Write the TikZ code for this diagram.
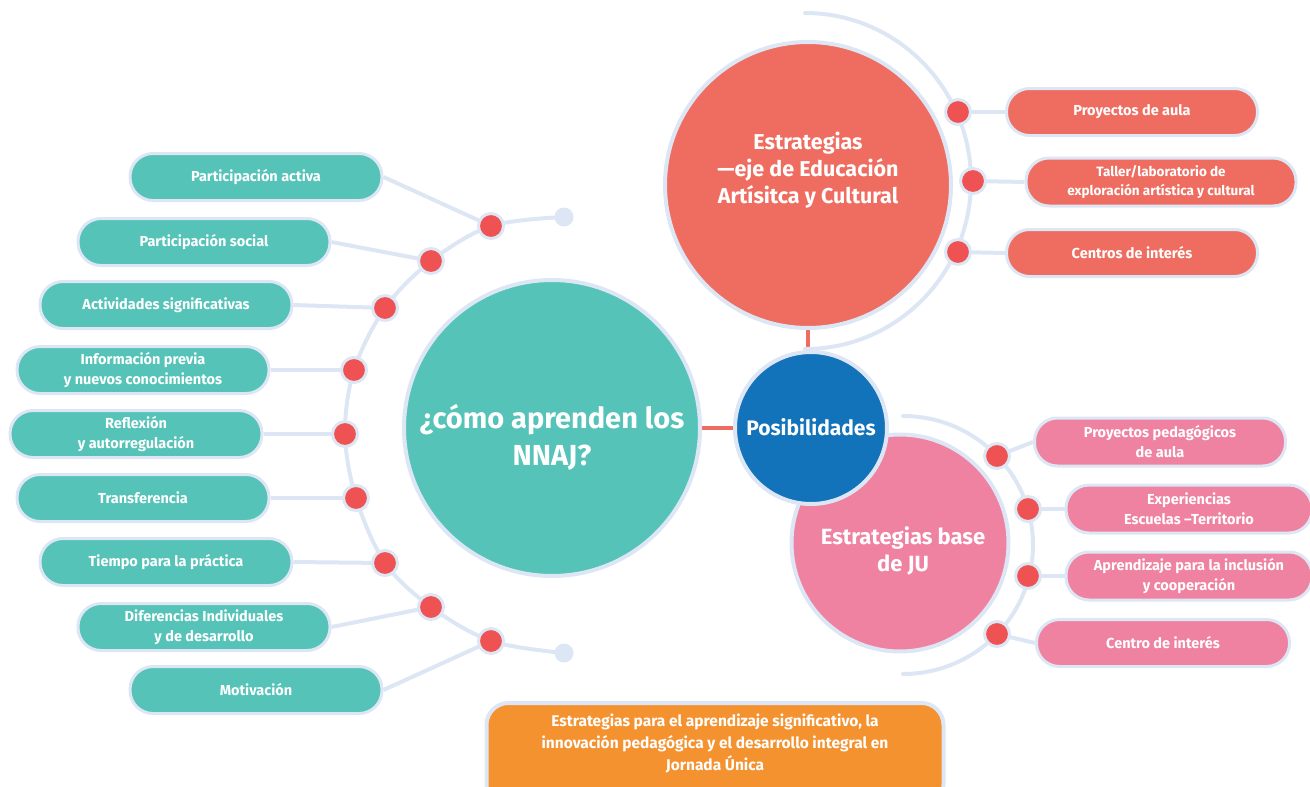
\documentclass[tikz,border=0pt]{standalone}
\usepackage{fontspec}
\setmainfont{Fira Sans}
\usetikzlibrary{backgrounds}

\definecolor{tealc}{HTML}{55C3B8}
\definecolor{coral}{HTML}{EF6D60}
\definecolor{rosec}{HTML}{EF82A1}
\definecolor{bluec}{HTML}{1272BA}
\definecolor{orangec}{HTML}{F49230}
\definecolor{dotred}{HTML}{EE5253}
\definecolor{halo}{HTML}{DDE6F4}

\tikzset{
  pill/.style={draw=halo, line width=3pt, rounded corners=23pt, minimum width=252pt,
    minimum height=47pt, align=center, text=white, inner sep=2pt,
    font=\bfseries\fontsize{14.5}{20}\selectfont},
  tealpill/.style={pill, fill=tealc},
  coralpill/.style={pill, fill=coral},
  rosepill/.style={pill, fill=rosec},
  knot/.style={circle, fill=dotred, draw=halo, line width=3pt, minimum size=25pt, inner sep=0pt},
  tip/.style={circle, fill=halo, minimum size=19pt, inner sep=0pt},
  twig/.style={draw=halo, line width=4pt},
  disc/.style={circle, draw=halo, line width=4pt, inner sep=0pt},
  disctxt/.style={text=white, align=center, inner sep=0pt},
  link/.style={draw=coral, line width=3.5pt}
}

\begin{document}
\begin{tikzpicture}[x=1pt,y=-1pt]
  \useasboundingbox (0,0) rectangle (1310,787);

  % central circles
  \node[disc, fill=tealc, minimum size=296pt] (nnaj) at (552,428) {};
  \node[disctxt, font=\bfseries\fontsize{29}{37}\selectfont] (nnajtxt) at (552,437) {¿cómo aprenden los\\NNAJ?};

  \node[disc, fill=coral, minimum size=286pt] (eje) at (808,185) {};
  \node[disctxt, font=\bfseries\fontsize{21.5}{27}\selectfont] (ejetxt) at (808,170) {Estrategias\\—eje de Educación\\Artísitca y Cultural};

  \node[disc, fill=rosec, minimum size=217pt] (base) at (900,543) {};
  \node[disctxt, font=\bfseries\fontsize{22}{27}\selectfont] (basetxt) at (903,551) {Estrategias base\\de JU};

  \node[disc, fill=bluec, minimum size=152pt] (pos) at (811,428) {};
  \node[disctxt, font=\bfseries\fontsize{21}{24}\selectfont] (postxt) at (811,427) {Posibilidades};

  \begin{scope}[on background layer]
    \draw[link] (eje.south) -- (eje.south |- pos.north);
    \draw[link] (nnaj.east) -- (pos.west);
  \end{scope}

  % arcs round the coloured circles
  \draw[twig, line cap=round] (805,13) arc[start angle=90, end angle=-90, x radius=166pt, y radius=168pt];
  \draw[twig, line cap=round] (903,416) arc[start angle=90, end angle=-90, x radius=130pt, y radius=129pt];

  % left branch
  \node[tip] (ltop) at (564,217) {};
  \node[tip] (lbot) at (564,653) {};
  \node[knot] (l1) at (491,226) {};
  \node[knot] (l2) at (431,261) {};
  \node[knot] (l3) at (385,308) {};
  \node[knot] (l4) at (354,370) {};
  \node[knot] (l5) at (345,434) {};
  \node[knot] (l6) at (356,498) {};
  \node[knot] (l7) at (385,563) {};
  \node[knot] (l8) at (431,607) {};
  \node[knot] (l9) at (491,641) {};

  \node[tealpill] (t1) at (256,177) {Participación activa};
  \node[tealpill] (t2) at (204,242) {Participación social};
  \node[tealpill] (t3) at (166,305) {Actividades significativas};
  \node[tealpill] (t4) at (143,370) {Información previa\\y nuevos conocimientos};
  \node[tealpill] (t5) at (136,434) {Reflexión\\y autorregulación};
  \node[tealpill] (t6) at (143,498) {Transferencia};
  \node[tealpill] (t7) at (166,562) {Tiempo para la práctica};
  \node[tealpill] (t8) at (204,627) {Diferencias Individuales\\y de desarrollo};
  \node[tealpill] (t9) at (256,690) {Motivación};

  \begin{scope}[on background layer]
    \draw[twig] plot[smooth, tension=0.55] coordinates {(ltop) (l1) (l2) (l3) (l4) (l5) (l6) (l7) (l8) (l9) (lbot)};
    \foreach \i in {1,...,9}
      \draw[twig] (t\i.east) -- (l\i.center);
  \end{scope}

  % top right branch
  \node[knot] (c1) at (958,112) {};
  \node[knot] (c2) at (973,181) {};
  \node[knot] (c3) at (958,252) {};
  \node[coralpill, minimum width=251pt] (p1) at (1132,112) {Proyectos de aula};
  \node[coralpill, minimum width=270pt, minimum height=48pt, font=\bfseries\fontsize{13.5}{19}\selectfont] (p2) at (1161,182) {Taller/laboratorio de\\exploración artística y cultural};
  \node[coralpill, minimum width=251pt] (p3) at (1132,253) {Centros de interés};
  \begin{scope}[on background layer]
    \foreach \i in {1,2,3}
      \draw[twig] (c\i.center) -- (p\i.west);
  \end{scope}

  % bottom right branch
  \node[knot] (r1) at (997,456) {};
  \node[knot] (r2) at (1028,509) {};
  \node[knot] (r3) at (1028,576) {};
  \node[knot] (r4) at (997,634) {};
  \node[rosepill, minimum width=251pt, minimum height=48pt] (q1) at (1160,442) {Proyectos pedagógicos\\de aula};
  \node[rosepill, minimum width=246pt, minimum height=48pt] (q2) at (1189,509) {Experiencias\\Escuelas –Territorio};
  \node[rosepill, minimum width=246pt, minimum height=48pt] (q3) at (1189,576) {Aprendizaje para la inclusión\\y cooperación};
  \node[rosepill, minimum width=253pt, minimum height=47pt] (q4) at (1163,643) {Centro de interés};
  \begin{scope}[on background layer]
    \foreach \i in {1,...,4}
      \draw[twig] (r\i.center) -- (q\i.west);
  \end{scope}

  % bottom goal
  \node[draw=halo, line width=4pt, fill=orangec, rounded corners=22pt, minimum width=457pt, minimum height=104pt] (goal) at (715,755) {};
  \node[disctxt, font=\bfseries\fontsize{15.5}{22}\selectfont] (goaltxt) at (715,744) {Estrategias para el aprendizaje significativo, la\\innovación pedagógica y el desarrollo integral en\\Jornada Única};
\end{tikzpicture}
\end{document}
